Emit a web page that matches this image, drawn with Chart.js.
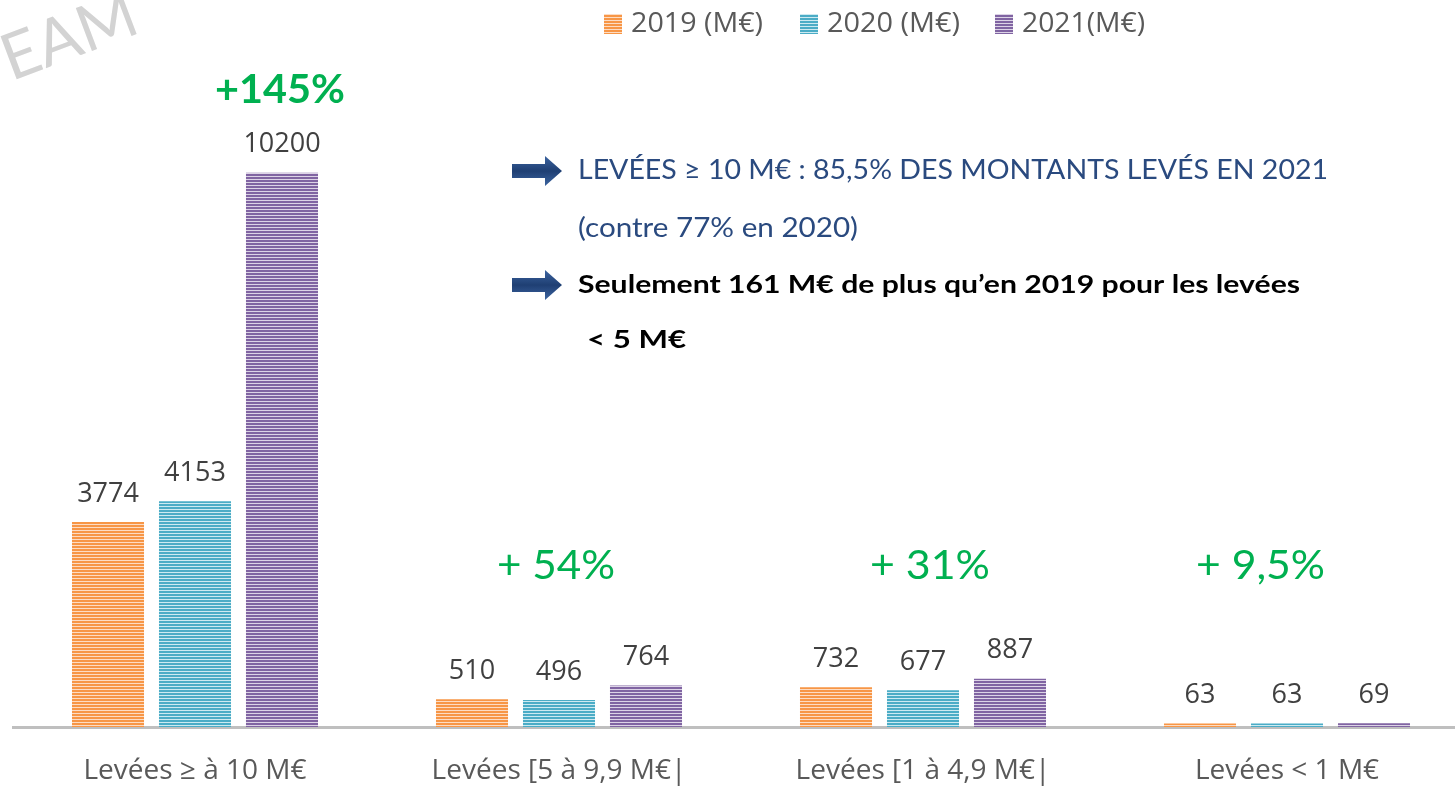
<!DOCTYPE html>
<html>
<head>
<meta charset="utf-8">
<script src="https://cdn.jsdelivr.net/npm/chart.js"></script>
<style>
body{margin:0;background:#fff;overflow:hidden;}
#wrap{width:1470px;height:787px;position:relative;}
</style>
</head>
<body>
<div id="wrap"><canvas id="myChart"></canvas></div>
<script>
var categories = ['Levées ≥ à 10 M€', 'Levées [5 à 9,9 M€|', 'Levées [1 à 4,9 M€|', 'Levées < 1 M€'];
var series_names = ['2019 (M€)', '2020 (M€)', '2021(M€)'];
var values_2019 = [3774, 510, 732, 63];
var values_2020 = [4153, 496, 677, 63];
var values_2021 = [10200, 764, 887, 69];
var growth = ['+145%', '+ 54%', '+ 31%', '+ 9,5%'];

var colors = ['#F79646', '#4BACC6', '#8064A2'];
var lights = ['#FDDCC3', '#CDEAF1', '#DCD3E6'];

function stripes(c, l){
	var cv = document.createElement('canvas');
	cv.width = 4; cv.height = 3;
	var x = cv.getContext('2d');
	x.fillStyle = c; x.fillRect(0, 0, 4, 2);
	x.fillStyle = l; x.fillRect(0, 2, 4, 1);
	return x.createPattern(cv, 'repeat');
}
var pats = [stripes(colors[0], lights[0]), stripes(colors[1], lights[1]), stripes(colors[2], lights[2])];

function fitText(ctx, txt, x, y, w){
	var m = ctx.measureText(txt).width;
	ctx.save();
	ctx.translate(x, y);
	ctx.scale(w / m, 1);
	ctx.fillText(txt, 0, 0);
	ctx.restore();
}

function arrow(ctx, x, y){
	var g = ctx.createLinearGradient(0, y - 15, 0, y + 15);
	g.addColorStop(0, '#3C64A0');
	g.addColorStop(0.5, '#1F3F73');
	g.addColorStop(1, '#3C64A0');
	ctx.fillStyle = g;
	ctx.beginPath();
	ctx.moveTo(x, y - 7);
	ctx.lineTo(x + 33, y - 7);
	ctx.lineTo(x + 33, y - 15);
	ctx.lineTo(x + 50, y);
	ctx.lineTo(x + 33, y + 15);
	ctx.lineTo(x + 33, y + 7);
	ctx.lineTo(x, y + 7);
	ctx.closePath();
	ctx.fill();
}

var extras = {
	id: 'extras',
	afterDatasetsDraw: function(chart){
		var ctx = chart.ctx;
		ctx.save();
		// value labels
		ctx.font = '27px "Open Sans"';
		ctx.fillStyle = '#404040';
		ctx.textAlign = 'center';
		ctx.textBaseline = 'middle';
		chart.data.datasets.forEach(function(ds, i){
			var meta = chart.getDatasetMeta(i);
			meta.data.forEach(function(bar, j){
				ctx.fillText(ds.data[j], bar.x, bar.y - 28);
			});
		});
		// growth labels
		ctx.fillStyle = '#00B050';
		ctx.textAlign = 'left';
		ctx.font = 'bold 40px Lato';
		fitText(ctx, growth[0], 215, 90, 130);
		ctx.font = '40px Lato';
		fitText(ctx, growth[1], 497, 566, 118);
		fitText(ctx, growth[2], 870, 566, 120);
		fitText(ctx, growth[3], 1196, 566, 129);
		// legend
		ctx.font = '28px "Open Sans"';
		var lx = [604, 800, 995];
		var lw = [132, 133, 123];
		for (var k = 0; k < 3; k++){
			ctx.fillStyle = pats[k];
			ctx.fillRect(lx[k], 14, 18, 20);
			ctx.fillStyle = '#595959';
			fitText(ctx, series_names[k], lx[k] + 27, 24, lw[k]);
		}
		// notes
		arrow(ctx, 512, 171);
		arrow(ctx, 512, 285);
		ctx.fillStyle = '#2A4A7F';
		ctx.font = '26px Lato';
		fitText(ctx, 'LEVÉES ≥ 10 M€ : 85,5% DES MONTANTS LEVÉS EN 2021', 578, 171, 750);
		fitText(ctx, '(contre 77% en 2020)', 578, 229, 280);
		ctx.fillStyle = '#000';
		ctx.font = 'bold 25px Lato';
		fitText(ctx, 'Seulement 161 M€ de plus qu’en 2019 pour les levées', 578, 285, 722);
		fitText(ctx, '< 5 M€', 587, 340, 99);
		// watermark
		ctx.translate(4, 62);
		ctx.rotate(-0.36);
		ctx.fillStyle = '#D3D3D3';
		ctx.font = '64px Lato';
		ctx.fillText('EAM', 0, 0);
		ctx.restore();
	}
};

var ctx = document.getElementById('myChart');
var barGraph = new Chart(ctx, {
	type: 'bar',
	data: {
		labels: categories,
		datasets: [
			{label: series_names[0], data: values_2019, backgroundColor: pats[0]},
			{label: series_names[1], data: values_2020, backgroundColor: pats[1]},
			{label: series_names[2], data: values_2021, backgroundColor: pats[2]}
		]
	},
	options: {
		responsive: true,
		maintainAspectRatio: false,
		animation: false,
		categoryPercentage: 0.717,
		barPercentage: 0.828,
		layout: {padding: {top: 75, left: 13, right: 1, bottom: 0}},
		plugins: {legend: {display: false}, tooltip: {enabled: false}},
		scales: {
			y: {display: false, min: 0, max: 12000},
			x: {
				afterFit: function(s){ s.height = 60; },
				grid: {display: false, drawTicks: false},
				border: {display: true, color: '#BFBFBF', width: 3},
				ticks: {color: '#595959', font: {family: 'Open Sans', size: 28}, padding: 27}
			}
		}
	},
	plugins: [extras]
});
</script>
</body>
</html>
